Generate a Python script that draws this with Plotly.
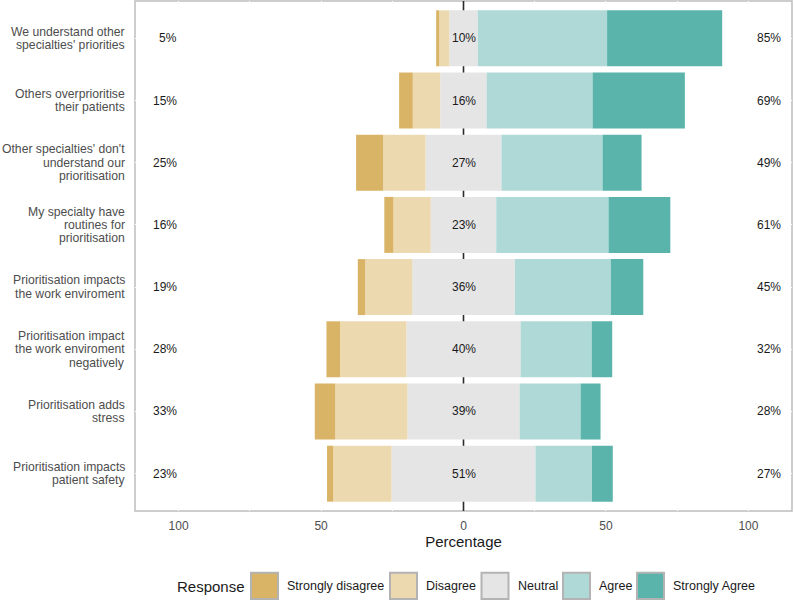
import plotly.graph_objects as go

# ---------------- data ----------------
items = [
    "We understand other<br>specialties' priorities",
    "Others overprioritise<br>their patients",
    "Other specialties' don't<br>understand our<br>prioritisation",
    "My specialty have<br>routines for<br>prioritisation",
    "Prioritisation impacts<br>the work enviroment",
    "Prioritisation impact<br>the work enviroment<br>negatively",
    "Prioritisation adds<br>stress",
    "Prioritisation impacts<br>patient safety",
]
responses = ["Strongly disagree", "Disagree", "Neutral", "Agree", "Strongly Agree"]
colors = ["#D9B466", "#ECD9B0", "#E5E5E5", "#AFD9D6", "#5BB4AC"]

strongly_disagree = [1.1, 4.8, 9.5, 3.2, 2.6, 4.8, 7.2, 2.2]
disagree = [3.5, 9.65, 14.85, 13.1, 16.5, 23.25, 25.3, 20.45]
neutral = [10.0, 16.3, 26.7, 23.0, 36.0, 40.1, 39.4, 50.5]
agree = [45.4, 37.15, 35.45, 39.4, 33.7, 24.95, 21.4, 19.85]
strongly_agree = [40.4, 32.4, 13.7, 21.7, 11.4, 7.2, 7.0, 7.3]

low_labels = ["5%", "15%", "25%", "16%", "19%", "28%", "33%", "23%"]
neutral_labels = ["10%", "16%", "27%", "23%", "36%", "40%", "39%", "51%"]
high_labels = ["85%", "69%", "49%", "61%", "45%", "32%", "28%", "27%"]

x_ticks = [-100, -50, 0, 50, 100]
x_ticktext = [str(abs(v)) for v in x_ticks]
grid_vals = [-100, -75, -50, -25, 25, 50, 75, 100]

# ---------------- figure ----------------
FONT = "Liberation Sans, Arial, Helvetica, sans-serif"
W, H = 794, 600
ML, MR, MT, MB = 135, 2, 1, 89
PW, PH = W - ML - MR, H - MT - MB

def px2x(px):
    return (px - ML) / PW

def py2y(py):
    return (H - MB - py) / PH

ypos = list(range(len(items)))
fig = go.Figure()

def add_bar(widths, bases, color):
    fig.add_trace(go.Bar(
        x=widths, base=bases, y=ypos, orientation="h",
        marker=dict(color=color, line=dict(width=0), opacity=1),
        opacity=1, width=0.9, showlegend=False, hoverinfo="skip"))

n_base = [-v / 2 for v in neutral]
d_base = [b - d for b, d in zip(n_base, disagree)]
sd_base = [b - s for b, s in zip(d_base, strongly_disagree)]
a_base = [v / 2 for v in neutral]
sa_base = [b + a for b, a in zip(a_base, agree)]

add_bar(neutral, n_base, colors[2])
add_bar(disagree, d_base, colors[1])
add_bar(strongly_disagree, sd_base, colors[0])
add_bar(agree, a_base, colors[3])
add_bar(strongly_agree, sa_base, colors[4])

annotations = []
txt_color = "#1a1a1a"
for i in ypos:
    annotations.append(dict(x=0, y=i, xref="x", yref="y", text=neutral_labels[i],
                            showarrow=False, font=dict(size=12, color=txt_color, family=FONT)))
    annotations.append(dict(x=-100, y=i, xref="x", yref="y", text=low_labels[i],
                            xanchor="right", showarrow=False,
                            font=dict(size=12, color=txt_color, family=FONT)))
    annotations.append(dict(x=102.2, y=i, xref="x", yref="y", text=high_labels[i],
                            xanchor="left", showarrow=False,
                            font=dict(size=12, color=txt_color, family=FONT)))
    lines = items[i].split("<br>")
    n = len(lines)
    lh = 13.3
    for k, ln in enumerate(lines):
        annotations.append(dict(x=0, y=i, xref="paper", yref="y", text=ln,
                                xanchor="right", xshift=-8,
                                yshift=((n - 1) / 2 - k) * lh, showarrow=False,
                                font=dict(size=12.2, color="#4d4d4d", family=FONT)))

shapes = [
    dict(type="rect", xref="paper", yref="paper", x0=0, x1=1, y0=0, y1=1,
         line=dict(color="#bdbdbd", width=1.5), fillcolor="rgba(0,0,0,0)",
         layer="below"),
    dict(type="line", xref="x", yref="paper", x0=0, x1=0, y0=0, y1=1,
         line=dict(color="#2b2b2b", width=1.6), layer="below"),
]

# manual legend
annotations.append(dict(x=px2x(175), y=py2y(586), xref="paper", yref="paper",
                        text="Response", xanchor="left", yanchor="middle", showarrow=False,
                        font=dict(size=15, color=txt_color, family=FONT)))
sw_left = [251, 390, 481.5, 563, 637]
sw_w = 27
for name, col, left in zip(responses, colors, sw_left):
    shapes.append(dict(type="rect", xref="paper", yref="paper",
                       x0=px2x(left), x1=px2x(left + sw_w),
                       y0=py2y(599), y1=py2y(572.7),
                       fillcolor=col, line=dict(color="#b3b3b3", width=2), layer="above"))
    annotations.append(dict(x=px2x(left + sw_w + 7), y=py2y(586), xref="paper", yref="paper",
                            text=name, xanchor="left", yanchor="middle", showarrow=False,
                            font=dict(size=12.5, color=txt_color, family=FONT)))

fig.update_layout(
    width=W, height=H,
    margin=dict(l=ML, r=MR, t=MT, b=MB),
    barmode="overlay",
    plot_bgcolor="white", paper_bgcolor="white",
    font=dict(family=FONT),
    annotations=annotations, shapes=shapes,
    xaxis=dict(range=[-115.3, 115.3], tickvals=x_ticks, ticktext=x_ticktext,
               showgrid=False,
               minor=dict(tickvals=grid_vals, showgrid=True, gridcolor="white", gridwidth=1.2),
               zeroline=False,
               showline=False, ticks="", ticklabelstandoff=6,
               tickfont=dict(size=12, color="#4d4d4d", family=FONT),
               title=dict(text="Percentage", standoff=3,
                          font=dict(size=15, color=txt_color, family=FONT)),
               fixedrange=True),
    yaxis=dict(range=[len(items) - 0.4, -0.6], tickvals=ypos, showticklabels=False,
               showgrid=True, gridcolor="white", gridwidth=1.3, zeroline=False,
               showline=False, ticks="", fixedrange=True),
)

fig.write_html("out.html")
